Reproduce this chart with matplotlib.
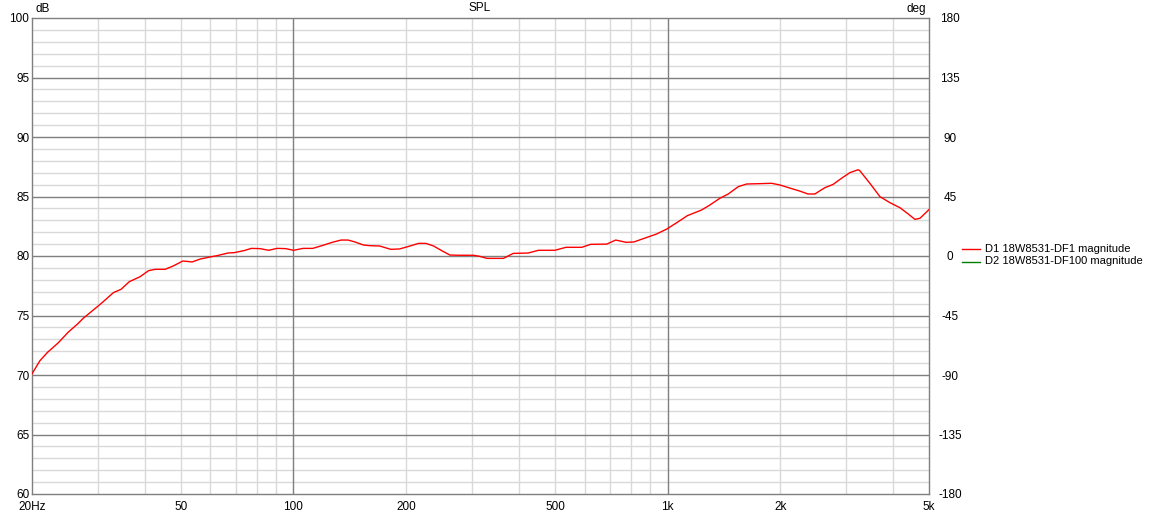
import numpy as np
import matplotlib
matplotlib.use("Agg")
import matplotlib.pyplot as plt
from matplotlib.lines import Line2D

# Data
freq_hz = [20, 21, 22, 23.5, 25, 26.5, 27.4, 29.9, 31.0, 33.0, 34.6, 36.4, 38.9, 41.0, 42.7,
           45.4, 47.7, 50.6, 53.6, 56.4, 59.9, 62.5, 66.8, 69.4, 73.7, 77.2, 81.4, 85.8,
           90.4, 95.3, 100.1, 106, 112.6, 120, 127, 134, 140, 146, 154, 160, 170, 182,
           192, 205, 216, 226, 237, 250, 262, 279, 303, 315, 329, 364, 387, 424, 452,
           500, 535, 590, 623, 688, 727, 775, 813, 871, 935, 996, 1062, 1130, 1232,
           1297, 1380, 1453, 1546, 1628, 1767, 1898, 1996, 2122, 2255, 2375, 2476,
           2634, 2772, 2918, 3071, 3232, 3266, 3474, 3696, 3931, 4181, 4400, 4585,
           4730, 5000]
spl_db = [70.1, 71.2, 71.9, 72.7, 73.6, 74.3, 74.76, 75.74, 76.16, 76.92, 77.2, 77.84,
          78.26, 78.77, 78.88, 78.88, 79.16, 79.58, 79.5, 79.75, 79.92, 80.03, 80.25,
          80.28, 80.45, 80.64, 80.62, 80.48, 80.64, 80.62, 80.48, 80.64, 80.64, 80.9,
          81.15, 81.34, 81.34, 81.18, 80.92, 80.87, 80.84, 80.56, 80.59, 80.84, 81.06,
          81.06, 80.84, 80.42, 80.08, 80.06, 80.06, 79.97, 79.8, 79.8, 80.22, 80.25,
          80.48, 80.48, 80.73, 80.73, 80.98, 81.0, 81.34, 81.15, 81.18, 81.51, 81.85,
          82.27, 82.83, 83.39, 83.86, 84.28, 84.85, 85.21, 85.83, 86.05, 86.08, 86.11,
          85.97, 85.71, 85.46, 85.21, 85.21, 85.74, 86.02, 86.53, 87.0, 87.25, 87.17,
          86.11, 84.99, 84.48, 84.06, 83.53, 83.08, 83.17, 83.9]

series_labels = ["D1 18W8531-DF1 magnitude", "D2 18W8531-DF100 magnitude"]
series_colors = ["#ff0000", "#008000"]

x_ticks = [20, 50, 100, 200, 500, 1000, 2000, 5000]
x_tick_labels = ["20Hz", "50", "100", "200", "500", "1k", "2k", "5k"]
y_ticks = [60, 65, 70, 75, 80, 85, 90, 95, 100]
deg_ticks = [-180, -135, -90, -45, 0, 45, 90, 135, 180]

plt.rcParams['font.family'] = ['Liberation Sans', 'DejaVu Sans']
plt.rcParams['axes.unicode_minus'] = False
W, H = 1151, 513
fig = plt.figure(figsize=(W / 100, H / 100), dpi=100)
L, R, T, B = 32, 929, 18, 494
ax = fig.add_axes([L / W, 1 - B / H, (R - L) / W, (B - T) / H])
ax.set_xscale('log')
ax.set_xlim(20, 5000)
ax.set_ylim(60, 100)

light = "#d9d9d9"
dark = "#7f7f7f"
minor_x = [f * d for d in (10, 100, 1000) for f in range(2, 10)]
minor_x = [m for m in minor_x if 20 < m < 5000 and m not in (100, 1000)]
for m in minor_x:
    ax.axvline(m, color=light, lw=1, zorder=1)
for m in (100, 1000):
    ax.axvline(m, color=dark, lw=1, zorder=2)
for v in range(61, 100):
    if v % 5:
        ax.axhline(v, color=light, lw=1, zorder=1)
for v in range(65, 100, 5):
    ax.axhline(v, color=dark, lw=1, zorder=2)

# D2 lies exactly beneath D1 in the reference; only D1 (red) is visible
ax.plot(freq_hz, spl_db, color=series_colors[0], lw=1, zorder=4)

for s in ax.spines.values():
    s.set_color(dark)
    s.set_linewidth(1)

fs = 8.5
ax.set_xticks(x_ticks)
ax.set_xticklabels(x_tick_labels)
ax.xaxis.set_minor_locator(matplotlib.ticker.NullLocator())
ax.set_yticks(y_ticks)
ax.tick_params(axis='both', length=0, labelsize=fs, colors='black')
ax.tick_params(axis='x', pad=5)
ax.tick_params(axis='y', pad=2)

ax2 = ax.twinx()
ax2.set_ylim(-180, 180)
ax2.set_yticks(deg_ticks)
ax2.tick_params(axis='y', length=0, labelsize=fs, pad=15)
for t in ax2.get_yticklabels():
    t.set_horizontalalignment('center')
for s in ax2.spines.values():
    s.set_visible(False)

fig.text(35 / W, 1 - 9 / H, "dB", fontsize=fs, ha='left', va='center')
fig.text(926 / W, 1 - 9 / H, "deg", fontsize=fs, ha='right', va='center')
fig.text(480 / W, 1 - 8 / H, "SPL", fontsize=fs, ha='center', va='center')

for i, (lab, col) in enumerate(zip(series_labels, series_colors)):
    yy = 1 - (249 + 12.5 * i) / H
    fig.add_artist(Line2D([962 / W, 980 / W], [yy, yy], color=col, lw=1))
    fig.text(985 / W, yy, lab, fontsize=8, ha='left', va='center')

fig.savefig("out.png", dpi=100, facecolor='white')
